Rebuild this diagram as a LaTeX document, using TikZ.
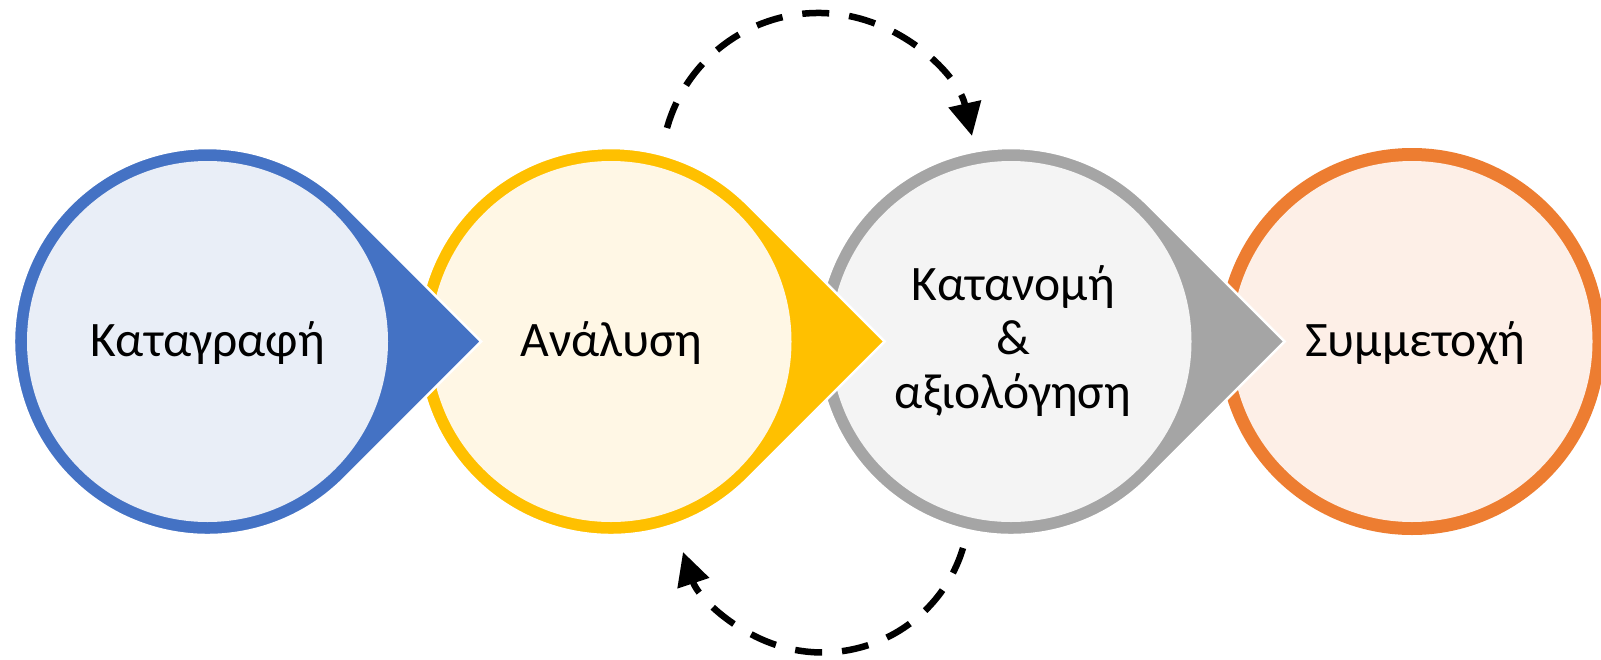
\documentclass[tikz,border=0pt]{standalone}
\usepackage{fontspec}
\setmainfont{Carlito}
\usetikzlibrary{arrows.meta}
\definecolor{blu}{HTML}{4472C4}
\definecolor{blul}{HTML}{E9EEF7}
\definecolor{yel}{HTML}{FFC000}
\definecolor{yell}{HTML}{FFF7E5}
\definecolor{gry}{HTML}{A5A5A5}
\definecolor{gryl}{HTML}{F4F4F4}
\definecolor{orng}{HTML}{ED7D31}
\definecolor{orngl}{HTML}{FDEFE7}
\tikzset{
  lbl/.style={font=\fontsize{49.6}{54}\selectfont, align=center, inner sep=0pt, text=black},
  loopline/.style={black, line width=6.5pt, dash pattern=on 27pt off 20pt,
    -{Triangle[length=33pt,width=32pt]}},
}
\begin{document}
\begin{tikzpicture}[x=1pt,y=-1pt]
\useasboundingbox[fill=white] (0,0) rectangle (1601,659);
% last stage: plain ring
\fill[orng] (1412,341.5) circle[radius=193.5];
\fill[orngl] (1412,341.5) circle[radius=180.5];
\foreach \cx/\dk/\lt in {1011/gry/gryl, 611/yel/yell, 207.5/blu/blul} {
  \fill[\dk, draw=white, line width=2.5pt] (\cx+273.6,341.5) -- ++(-136.8,-136.8)
     arc[start angle=-45, end angle=-315, radius=193.5] -- cycle;
  \fill[\lt] (\cx,341.5) circle[radius=180.5];
}
\node[lbl, anchor=base] (n1) at (207.5,356) {Καταγραφή};
\node[lbl, anchor=base] (n2) at (611.5,356) {Ανάλυση};
\node[lbl, anchor=base] (n3a) at (1013,300) {Κατανομή};
\node[lbl, anchor=base] (n3b) at (1013,354) {\&};
\node[lbl, anchor=base] (n3c) at (1013,408) {αξιολόγηση};
\node[lbl, anchor=base] (n4) at (1415,356) {Συμμετοχή};
\coordinate (topstart) at (667,128);
\coordinate (botstart) at (963,548);
\draw[loopline] (topstart) arc[start angle=195.6, end angle=347.4, radius=157.3];
\draw[loopline] (botstart) arc[start angle=16.8, end angle=161.6, radius=146.9];
\end{tikzpicture}
\end{document}
